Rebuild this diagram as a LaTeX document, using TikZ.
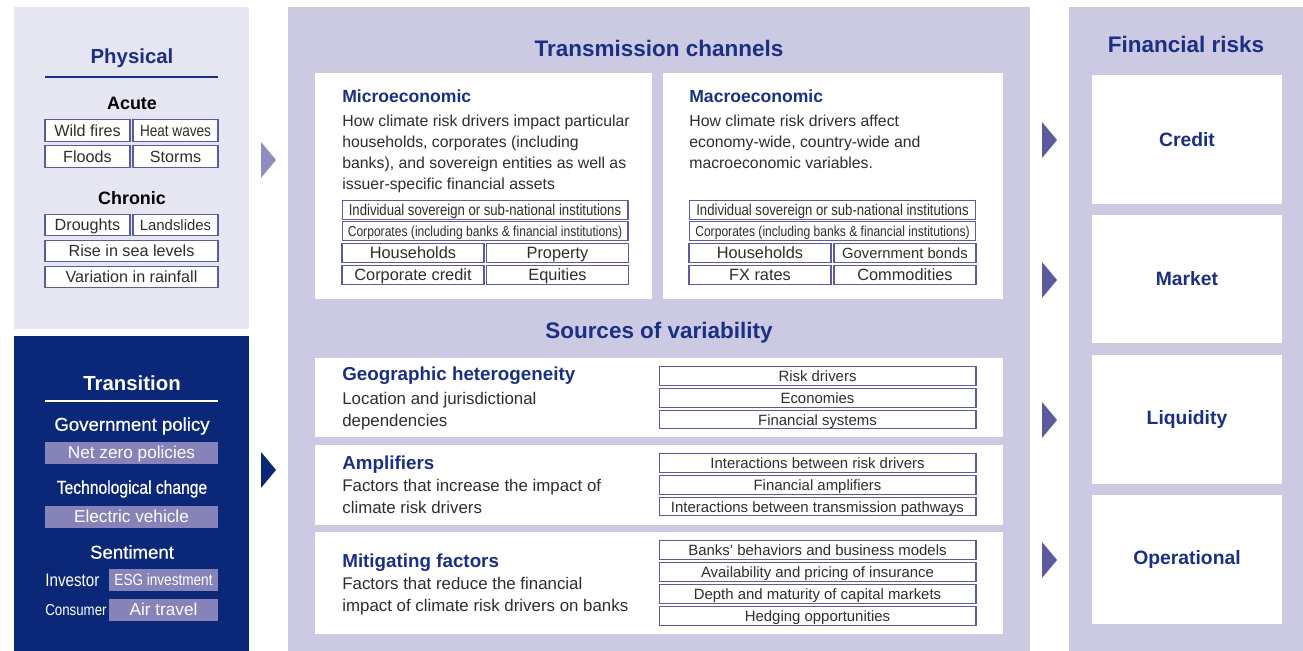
\documentclass[tikz,border=0pt]{standalone}
\usepackage{fontspec}
\setmainfont{Liberation Sans}
\newfontfamily\narrowfont[FakeStretch=0.84]{Liberation Sans}
\newfontfamily\mediumfont[FakeBold=0.5]{Liberation Sans}
\newfontfamily\narrowmedium[FakeStretch=0.84,FakeBold=0.5]{Liberation Sans}
\usepackage{xcolor}
\usepackage{tikz}
\usetikzlibrary{positioning}

\definecolor{navy}{HTML}{1B2F83}
\definecolor{darknavy}{HTML}{0B2878}
\definecolor{paleviolet}{HTML}{E6E5F2}
\definecolor{lavender}{HTML}{CCCAE3}
\definecolor{boxline}{HTML}{5B5BA0}
\definecolor{tagfill}{HTML}{8583B8}
\definecolor{arrowviolet}{HTML}{5A5A9C}
\definecolor{lightarrow}{HTML}{8E8CC0}
\definecolor{bodygray}{HTML}{2E2E2E}

\tikzset{
    heading/.style={font=\bfseries\fontsize{12.8}{14}\selectfont, text=navy, inner sep=0pt},
    panelhead/.style={heading, font=\bfseries\fontsize{11.6}{13}\selectfont},
    subhead/.style={font=\bfseries\fontsize{10}{12}\selectfont, text=navy, anchor=west, inner sep=0pt},
    srchead/.style={subhead, font=\bfseries\fontsize{10.7}{12}\selectfont},
    body/.style={font=\fontsize{9}{11.9}\selectfont, text=bodygray, align=left, anchor=north west, inner sep=0pt},
    srcbody/.style={body, font=\fontsize{9.6}{12.3}\selectfont},
    group/.style={font=\bfseries\fontsize{10.2}{12}\selectfont, text=black, inner sep=0pt},
    cell/.style={draw=boxline, line width=0.6pt, fill=white, inner sep=0pt, minimum height=0.37cm,
        text height=0.72em, text depth=0.08em, text=bodygray, font=\fontsize{9.3}{10}\selectfont},
    ncell/.style={cell, font=\narrowfont\fontsize{8.9}{10}\selectfont},
    physcell/.style={cell, minimum width=1.7cm, minimum height=0.43cm, font=\fontsize{9.2}{10}\selectfont},
    physwide/.style={physcell, minimum width=3.46cm},
    fullcell/.style={ncell, minimum width=5.72cm},
    halfcell/.style={cell, minimum width=2.84cm},
    srccell/.style={cell, minimum width=6.34cm, font=\fontsize{8.5}{10}\selectfont},
    tag/.style={fill=tagfill, inner sep=0pt, minimum height=0.44cm, text height=0.72em, text depth=0.08em,
        text=white, font=\fontsize{9.8}{10}\selectfont},
    whitehead/.style={font=\bfseries\fontsize{11.6}{13}\selectfont, text=white, inner sep=0pt},
    whitelabel/.style={font=\mediumfont\fontsize{10.6}{12}\selectfont, text=white, inner sep=0pt},
    sidelabel/.style={font=\narrowfont\fontsize{10.3}{12}\selectfont, text=white, inner sep=0pt, anchor=west},
    risk/.style={fill=white, minimum width=3.8cm, minimum height=2.58cm, inner sep=0pt,
        font=\bfseries\fontsize{11}{13}\selectfont, text=navy}
}

\begin{document}
\begin{tikzpicture}[x=0.02cm, y=-0.02cm]
    \useasboundingbox (0,0) rectangle (1303,651);

    % Panels
    \fill[paleviolet] (14,7) rectangle (249,329);
    \fill[darknavy] (14,336) rectangle (249,651);
    \fill[lavender] (288,7) rectangle (1030,651);
    \fill[lavender] (1069,7) rectangle (1303,651);

    % Physical risk drivers
    \node[panelhead] (phys) at (132,58) {Physical};
    \draw[navy, line width=0.8pt] (45,77) -- (218,77);
    \node[group] (acute) at (132,103) {Acute};
    \node[physcell] (wild) at (87.5,130.5) {Wild fires};
    \node[physcell, font=\narrowfont\fontsize{9.2}{10}\selectfont] (heat) at (175.5,130.5) {Heat waves};
    \node[physcell] (floods) at (87.5,156.5) {Floods};
    \node[physcell] (storms) at (175.5,156.5) {Storms};
    \node[group] (chronic) at (132,198) {Chronic};
    \node[physcell] (droughts) at (87.5,225) {Droughts};
    \node[physcell, font=\fontsize{8.5}{10}\selectfont] (landslides) at (175.5,225) {Landslides};
    \node[physwide] (sealevel) at (131.5,251) {Rise in sea levels};
    \node[physwide] (rainfall) at (131.5,277) {Variation in rainfall};

    % Transition risk drivers
    \node[whitehead] (trans) at (132,383) {Transition};
    \draw[white, line width=0.8pt] (45,401) -- (218,401);
    \node[whitelabel] (gov) at (132,426) {Government policy};
    \node[tag, minimum width=3.46cm] (netzero) at (131.5,453) {Net zero policies};
    \node[whitelabel, font=\narrowmedium\fontsize{10.6}{12}\selectfont] (tech) at (132,489) {Technological change};
    \node[tag, minimum width=3.46cm] (ev) at (131.5,517) {Electric vehicle};
    \node[whitelabel] (senti) at (132,552) {Sentiment};
    \node[sidelabel] (investor) at (45,580) {Investor};
    \node[tag, minimum width=2.18cm, font=\narrowfont\fontsize{9.2}{10}\selectfont] (esg) at (163.5,580) {ESG investment};
    \node[sidelabel, font=\narrowfont\fontsize{9}{12}\selectfont] (consumer) at (45,610) {Consumer};
    \node[tag, minimum width=2.18cm] (air) at (163.5,610) {Air travel};

    % Arrow marks
    \fill[lightarrow] (261,142) -- (276,160) -- (261,178) -- cycle;
    \fill[darknavy] (261,452) -- (276,470) -- (261,488) -- cycle;
    \foreach \y in {140,280,420,560}
        \fill[arrowviolet] (1042,\y-18) -- (1057,\y) -- (1042,\y+18) -- cycle;

    % Transmission channels
    \node[heading] (channels) at (659,48) {Transmission channels};
    \fill[white] (315,73) rectangle (652,299);
    \fill[white] (663,73) rectangle (1003,299);

    \node[subhead] (micro) at (342,96) {Microeconomic};
    \node[body] (microtxt) at (342,115) {How climate risk drivers impact particular\\households, corporates (including\\banks), and sovereign entities as well as\\issuer-specific financial assets};
    \node[fullcell] (microsov) at (485,210) {Individual sovereign or sub-national institutions};
    \node[fullcell, font=\narrowfont\fontsize{8.2}{10}\selectfont] (microcorp) at (485,231) {Corporates (including banks \& financial institutions)};
    \node[halfcell] (microhh) at (413,253) {Households};
    \node[halfcell] (property) at (557.5,253) {Property};
    \node[halfcell] (corpcredit) at (413,275) {Corporate credit};
    \node[halfcell] (equities) at (557.5,275) {Equities};

    \node[subhead] (macro) at (689,96) {Macroeconomic};
    \node[body] (macrotxt) at (689,115) {How climate risk drivers affect\\economy-wide, country-wide and\\macroeconomic variables.};
    \node[fullcell] (macrosov) at (832.5,210) {Individual sovereign or sub-national institutions};
    \node[fullcell, font=\narrowfont\fontsize{8.2}{10}\selectfont] (macrocorp) at (832.5,231) {Corporates (including banks \& financial institutions)};
    \node[halfcell] (macrohh) at (760,253) {Households};
    \node[halfcell, font=\fontsize{8.4}{10}\selectfont] (govbonds) at (905,253) {Government bonds};
    \node[halfcell] (fx) at (760,275) {FX rates};
    \node[halfcell] (commod) at (905,275) {Commodities};

    % Sources of variability
    \node[heading] (sources) at (659,333) {Sources of variability};
    \fill[white] (315,358) rectangle (1003,437);
    \fill[white] (315,445) rectangle (1003,525);
    \fill[white] (315,532) rectangle (1003,634);

    \node[srchead] (geo) at (342,376) {Geographic heterogeneity};
    \node[srcbody] (geotxt) at (342,392) {Location and jurisdictional\\dependencies};
    \node[srccell] (riskdrv) at (817.5,376) {Risk drivers};
    \node[srccell] (economies) at (817.5,398) {Economies};
    \node[srccell] (finsys) at (817.5,419.5) {Financial systems};

    \node[srchead] (ampl) at (342,465) {Amplifiers};
    \node[srcbody] (ampltxt) at (342,479) {Factors that increase the impact of\\climate risk drivers};
    \node[srccell] (interdrv) at (817.5,463) {Interactions between risk drivers};
    \node[srccell] (finampl) at (817.5,485) {Financial amplifiers};
    \node[srccell] (interpath) at (817.5,506.5) {Interactions between transmission pathways};

    \node[srchead] (mitig) at (342,563) {Mitigating factors};
    \node[srcbody] (mitigtxt) at (342,577) {Factors that reduce the financial\\impact of climate risk drivers on banks};
    \node[srccell] (banks) at (817.5,550) {Banks' behaviors and business models};
    \node[srccell] (insurance) at (817.5,572) {Availability and pricing of insurance};
    \node[srccell] (capital) at (817.5,594) {Depth and maturity of capital markets};
    \node[srccell] (hedging) at (817.5,616) {Hedging opportunities};

    % Financial risks
    \node[heading] (finrisks) at (1186,44) {Financial risks};
    \node[risk] (credit) at (1187,139.5) {Credit};
    \node[risk] (market) at (1187,279) {Market};
    \node[risk] (liquidity) at (1187,419.5) {Liquidity};
    \node[risk] (operational) at (1187,559.5) {Operational};
\end{tikzpicture}
\end{document}
